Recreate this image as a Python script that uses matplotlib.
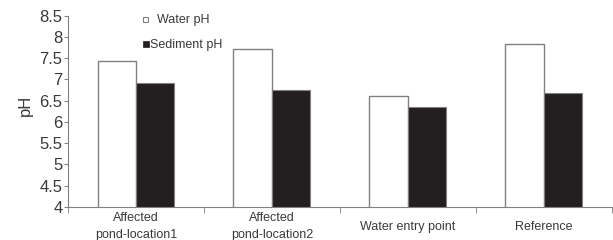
import numpy as np
import matplotlib.pyplot as plt
from matplotlib.patches import Rectangle

plt.rcParams['font.family'] = ['Liberation Sans', 'DejaVu Sans']

categories = ['Affected\npond-location1', 'Affected\npond-location2', 'Water entry point', 'Reference']
water_ph = [7.44, 7.72, 6.60, 7.83]
sediment_ph = [6.91, 6.74, 6.34, 6.68]

W, H = 613, 240
fig = plt.figure(figsize=(W / 100, H / 100), dpi=100)
ax = fig.add_axes([0.111, 0.1375, 0.887, 0.7975])

x = np.arange(len(categories))
w = 0.283
grey = '#808080'
txt = '#3a3a3a'
ax.bar(x - w / 2, water_ph, w, color='white', edgecolor=grey, linewidth=1)
ax.bar(x + w / 2, sediment_ph, w, color='#231f20', edgecolor=grey, linewidth=0.8)

ax.set_ylim(4, 8.5)
ax.set_xlim(-0.5, len(categories) - 0.5)
ax.set_yticks(np.arange(4, 8.51, 0.5))
ax.set_yticklabels(['4', '4.5', '5', '5.5', '6', '6.5', '7', '7.5', '8', '8.5'], fontsize=12, color=txt)
ax.set_ylabel('pH', fontsize=12, color=txt)
ax.yaxis.set_label_coords(-0.064, 0.53)

ax.set_xticks(x)
ax.set_xticklabels(categories, fontsize=9, color=txt, linespacing=1.55)
for lab in ax.get_xticklabels():
    lab.set_verticalalignment('center')
ax.tick_params(axis='x', which='major', length=0, pad=14.3)
ax.set_xticks(np.arange(-0.5, len(categories), 1), minor=True)
ax.tick_params(axis='x', which='minor', length=4, color=grey, direction='out')
ax.tick_params(axis='y', length=3, color=grey, pad=1)

for s in ['top', 'right']:
    ax.spines[s].set_visible(False)
for s in ['left', 'bottom']:
    ax.spines[s].set_color(grey)

# legend drawn by hand (entries are not aligned in the original)
fig.patches.append(Rectangle((143 / W, 1 - 22 / H), 5 / W, 5 / H, transform=fig.transFigure,
                             facecolor='white', edgecolor=grey, linewidth=0.8))
fig.text(157 / W, 1 - 20 / H, 'Water pH', fontsize=9, color=txt, va='center')
fig.patches.append(Rectangle((143 / W, 1 - 47 / H), 6 / W, 6 / H, transform=fig.transFigure,
                             facecolor='#231f20', edgecolor='#231f20', linewidth=0.5))
fig.text(150 / W, 1 - 45 / H, 'Sediment pH', fontsize=9, color=txt, va='center')

fig.savefig('out.png', dpi=100)
